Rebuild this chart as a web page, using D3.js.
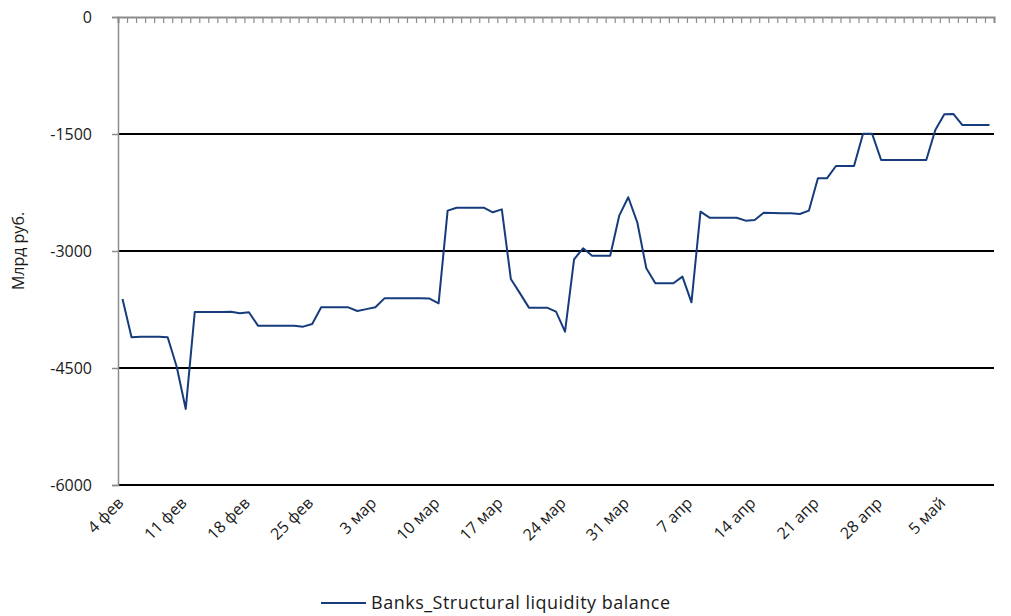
<!DOCTYPE html>
<html>
<head>
<meta charset="utf-8">
<script src="https://cdn.jsdelivr.net/npm/d3@7"></script>
<style>
  body { margin: 0; background: #fff; }
  text { font-family: "Open Sans", Roboto, sans-serif; fill: #1a1a1a; }
</style>
</head>
<body>
<script>
// first day of the series, one value per calendar day (2020)
var startDate = new Date(2020, 1, 4);
var seriesName = "Banks_Structural liquidity balance";
var balance = [
  -3615, -4106, -4098, -4098, -4098, -4106, -4483, -5025, -3782, -3782,
  -3782, -3782, -3778, -3799, -3786, -3957, -3957, -3957, -3957, -3957,
  -3970, -3936, -3722, -3722, -3722, -3722, -3769, -3745, -3722, -3607,
  -3607, -3607, -3607, -3607, -3610, -3671, -2483, -2445, -2445, -2445,
  -2445, -2504, -2466, -3359, -3540, -3726, -3726, -3726, -3778, -4034,
  -3106, -2965, -3060, -3060, -3060, -2547, -2311, -2632, -3222, -3414,
  -3414, -3414, -3329, -3658, -2496, -2573, -2573, -2573, -2573, -2611,
  -2602, -2509, -2512, -2515, -2517, -2525, -2483, -2068, -2068, -1910,
  -1910, -1910, -1496, -1496, -1833, -1833, -1833, -1833, -1833, -1833,
  -1449, -1247, -1243, -1385, -1385, -1385, -1385
];
var yTicks = [0, -1500, -3000, -4500, -6000];
var monthNames = ["янв", "фев", "мар", "апр", "май", "июн"];

var w = 1011, h = 616;
var plotLeft = 118, plotRight = 994, plotTop = 17, plotBottom = 485;

var svg = d3.select("body").append("svg")
  .attr("width", w)
  .attr("height", h);

var data = balance.map(function(v, i) {
  return {date: d3.timeDay.offset(startDate, i), value: v};
});
var endDate = d3.timeDay.offset(startDate, balance.length);

var x = d3.scaleTime().domain([startDate, endDate]).range([plotLeft, plotRight]);
var y = d3.scaleLinear().domain([0, -6000]).range([plotTop, plotBottom]);

// middle of a day cell
function xc(d) { return x(d3.timeHour.offset(d, 12)); }

// horizontal grid lines
svg.selectAll("line.grid")
  .data(yTicks.filter(function(t) { return t !== 0; }))
  .enter().append("line")
  .attr("class", "grid")
  .attr("x1", plotLeft).attr("x2", plotRight)
  .attr("y1", function(d) { return y(d); })
  .attr("y2", function(d) { return y(d); })
  .attr("stroke", "#000")
  .attr("stroke-width", 2);

// y axis
var yAxis = svg.append("g")
  .attr("transform", "translate(" + plotLeft + ",0)")
  .call(d3.axisLeft(y).tickValues(yTicks).tickSize(6).tickPadding(20)
    .tickFormat(function(d) { return String(d); }));
yAxis.select(".domain").attr("stroke", "#8c8c8c").attr("stroke-width", 1.5);
yAxis.selectAll(".tick line").attr("stroke", "#8c8c8c").attr("stroke-width", 1.5);
yAxis.selectAll(".tick text")
  .style("font-size", "16px")
  .style("font-family", "'Open Sans', sans-serif")
  .attr("fill", "#1a1a1a");

// x axis along value 0, with daily minor ticks
var xAxis = svg.append("g")
  .attr("transform", "translate(0," + plotTop + ")")
  .call(d3.axisBottom(x).ticks(d3.timeDay.every(1)).tickSize(6).tickFormat(""));
xAxis.select(".domain").attr("stroke", "#8c8c8c").attr("stroke-width", 2);
xAxis.selectAll(".tick line").attr("stroke", "#8c8c8c").attr("stroke-width", 1.2);

// weekly labels under the plot
var labelDates = data.filter(function(d, i) { return i % 7 === 0; });
var xlab = svg.selectAll("g.xlab")
  .data(labelDates)
  .enter().append("g")
  .attr("class", "xlab")
  .attr("transform", function(d) {
    return "translate(" + (xc(d.date) + 2) + "," + (plotBottom + 19) + ")";
  });
xlab.append("text")
  .attr("transform", "rotate(-45)")
  .attr("text-anchor", "end")
  .style("font-size", "16px")
  .text(function(d) { return d.date.getDate() + " " + monthNames[d.date.getMonth()]; });

// y title
svg.append("text")
  .attr("transform", "translate(24," + ((plotTop + plotBottom) / 2) + ") rotate(-90)")
  .attr("text-anchor", "middle")
  .style("font-size", "16px")
  .text("Млрд руб.");

// the series
var line = d3.line()
  .x(function(d) { return xc(d.date); })
  .y(function(d) { return y(d.value); });

svg.append("path")
  .datum(data)
  .attr("d", line)
  .attr("fill", "none")
  .attr("stroke", "#173c7c")
  .attr("stroke-width", 2)
  .attr("stroke-linejoin", "round");

// legend
svg.append("line")
  .attr("x1", 321).attr("x2", 366)
  .attr("y1", 603).attr("y2", 603)
  .attr("stroke", "#173c7c")
  .attr("stroke-width", 2);
svg.append("text")
  .attr("x", 371).attr("y", 609)
  .style("font-size", "18px")
  .style("letter-spacing", "0.5px")
  .text(seriesName);
</script>
</body>
</html>
